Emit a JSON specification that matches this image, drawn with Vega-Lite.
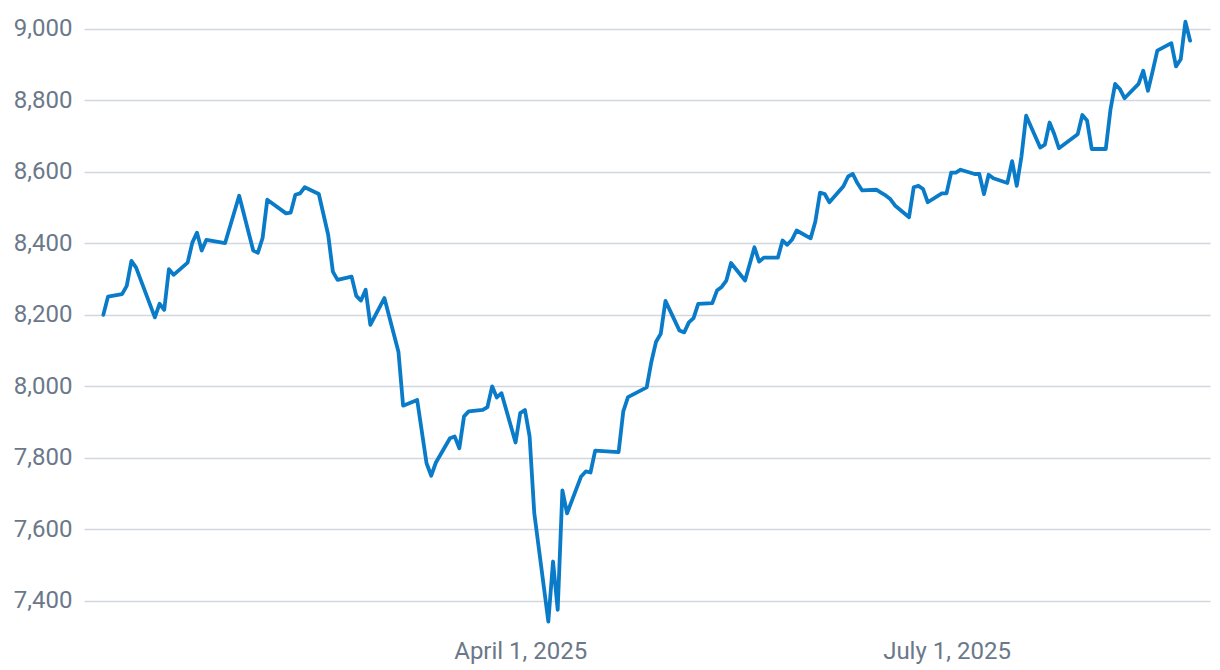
{
  "$schema": "https://vega.github.io/schema/vega-lite/v6.json",
  "width": 1126,
  "height": 625.6,
  "autosize": {"type": "none"},
  "padding": {"left": 84, "top": 11, "right": 10, "bottom": 33.4},
  "background": "white",
  "config": {"view": {"stroke": null}, "font": "Roboto"},
  "data": {"values": [
    {"date": "2025-01-02", "value": 8200},
    {"date": "2025-01-03", "value": 8251},
    {"date": "2025-01-06", "value": 8258},
    {"date": "2025-01-07", "value": 8281},
    {"date": "2025-01-08", "value": 8351},
    {"date": "2025-01-09", "value": 8332},
    {"date": "2025-01-13", "value": 8193},
    {"date": "2025-01-14", "value": 8231},
    {"date": "2025-01-15", "value": 8214},
    {"date": "2025-01-16", "value": 8328},
    {"date": "2025-01-17", "value": 8312},
    {"date": "2025-01-20", "value": 8346},
    {"date": "2025-01-21", "value": 8402},
    {"date": "2025-01-22", "value": 8430},
    {"date": "2025-01-23", "value": 8380},
    {"date": "2025-01-24", "value": 8410},
    {"date": "2025-01-28", "value": 8401},
    {"date": "2025-01-31", "value": 8533},
    {"date": "2025-02-03", "value": 8380},
    {"date": "2025-02-04", "value": 8374},
    {"date": "2025-02-05", "value": 8415},
    {"date": "2025-02-06", "value": 8522},
    {"date": "2025-02-10", "value": 8484},
    {"date": "2025-02-11", "value": 8486},
    {"date": "2025-02-12", "value": 8536},
    {"date": "2025-02-13", "value": 8540},
    {"date": "2025-02-14", "value": 8557},
    {"date": "2025-02-17", "value": 8538},
    {"date": "2025-02-19", "value": 8424},
    {"date": "2025-02-20", "value": 8321},
    {"date": "2025-02-21", "value": 8298},
    {"date": "2025-02-24", "value": 8307},
    {"date": "2025-02-25", "value": 8253},
    {"date": "2025-02-26", "value": 8240},
    {"date": "2025-02-27", "value": 8270},
    {"date": "2025-02-28", "value": 8172},
    {"date": "2025-03-03", "value": 8247},
    {"date": "2025-03-06", "value": 8097},
    {"date": "2025-03-07", "value": 7946},
    {"date": "2025-03-10", "value": 7962},
    {"date": "2025-03-12", "value": 7785},
    {"date": "2025-03-13", "value": 7750},
    {"date": "2025-03-14", "value": 7787},
    {"date": "2025-03-17", "value": 7855},
    {"date": "2025-03-18", "value": 7860},
    {"date": "2025-03-19", "value": 7827},
    {"date": "2025-03-20", "value": 7916},
    {"date": "2025-03-21", "value": 7930},
    {"date": "2025-03-24", "value": 7934},
    {"date": "2025-03-25", "value": 7942},
    {"date": "2025-03-26", "value": 8000},
    {"date": "2025-03-27", "value": 7969},
    {"date": "2025-03-28", "value": 7981},
    {"date": "2025-03-31", "value": 7843},
    {"date": "2025-04-01", "value": 7925},
    {"date": "2025-04-02", "value": 7934},
    {"date": "2025-04-03", "value": 7860},
    {"date": "2025-04-04", "value": 7645},
    {"date": "2025-04-07", "value": 7342},
    {"date": "2025-04-08", "value": 7510},
    {"date": "2025-04-09", "value": 7375},
    {"date": "2025-04-10", "value": 7709},
    {"date": "2025-04-11", "value": 7645},
    {"date": "2025-04-14", "value": 7748},
    {"date": "2025-04-15", "value": 7762},
    {"date": "2025-04-16", "value": 7759},
    {"date": "2025-04-17", "value": 7820},
    {"date": "2025-04-22", "value": 7816},
    {"date": "2025-04-23", "value": 7930},
    {"date": "2025-04-24", "value": 7970},
    {"date": "2025-04-28", "value": 7997},
    {"date": "2025-04-29", "value": 8069},
    {"date": "2025-04-30", "value": 8125},
    {"date": "2025-05-01", "value": 8147},
    {"date": "2025-05-02", "value": 8239},
    {"date": "2025-05-05", "value": 8156},
    {"date": "2025-05-06", "value": 8151},
    {"date": "2025-05-07", "value": 8179},
    {"date": "2025-05-08", "value": 8191},
    {"date": "2025-05-09", "value": 8231},
    {"date": "2025-05-12", "value": 8233},
    {"date": "2025-05-13", "value": 8268},
    {"date": "2025-05-14", "value": 8278},
    {"date": "2025-05-15", "value": 8296},
    {"date": "2025-05-16", "value": 8345},
    {"date": "2025-05-19", "value": 8296},
    {"date": "2025-05-21", "value": 8389},
    {"date": "2025-05-22", "value": 8349},
    {"date": "2025-05-23", "value": 8360},
    {"date": "2025-05-26", "value": 8360},
    {"date": "2025-05-27", "value": 8408},
    {"date": "2025-05-28", "value": 8396},
    {"date": "2025-05-29", "value": 8410},
    {"date": "2025-05-30", "value": 8436},
    {"date": "2025-06-02", "value": 8414},
    {"date": "2025-06-03", "value": 8461},
    {"date": "2025-06-04", "value": 8542},
    {"date": "2025-06-05", "value": 8538},
    {"date": "2025-06-06", "value": 8515},
    {"date": "2025-06-09", "value": 8560},
    {"date": "2025-06-10", "value": 8587},
    {"date": "2025-06-11", "value": 8594},
    {"date": "2025-06-12", "value": 8568},
    {"date": "2025-06-13", "value": 8548},
    {"date": "2025-06-16", "value": 8550},
    {"date": "2025-06-17", "value": 8542},
    {"date": "2025-06-18", "value": 8534},
    {"date": "2025-06-19", "value": 8524},
    {"date": "2025-06-20", "value": 8506},
    {"date": "2025-06-23", "value": 8473},
    {"date": "2025-06-24", "value": 8557},
    {"date": "2025-06-25", "value": 8561},
    {"date": "2025-06-26", "value": 8552},
    {"date": "2025-06-27", "value": 8515},
    {"date": "2025-06-30", "value": 8540},
    {"date": "2025-07-01", "value": 8540},
    {"date": "2025-07-02", "value": 8598},
    {"date": "2025-07-03", "value": 8598},
    {"date": "2025-07-04", "value": 8606},
    {"date": "2025-07-07", "value": 8594},
    {"date": "2025-07-08", "value": 8594},
    {"date": "2025-07-09", "value": 8538},
    {"date": "2025-07-10", "value": 8592},
    {"date": "2025-07-11", "value": 8582},
    {"date": "2025-07-14", "value": 8569},
    {"date": "2025-07-15", "value": 8630},
    {"date": "2025-07-16", "value": 8561},
    {"date": "2025-07-17", "value": 8643},
    {"date": "2025-07-18", "value": 8757},
    {"date": "2025-07-21", "value": 8668},
    {"date": "2025-07-22", "value": 8676},
    {"date": "2025-07-23", "value": 8738},
    {"date": "2025-07-24", "value": 8706},
    {"date": "2025-07-25", "value": 8666},
    {"date": "2025-07-29", "value": 8705},
    {"date": "2025-07-30", "value": 8759},
    {"date": "2025-07-31", "value": 8744},
    {"date": "2025-08-01", "value": 8664},
    {"date": "2025-08-04", "value": 8664},
    {"date": "2025-08-05", "value": 8774},
    {"date": "2025-08-06", "value": 8846},
    {"date": "2025-08-07", "value": 8832},
    {"date": "2025-08-08", "value": 8806},
    {"date": "2025-08-11", "value": 8846},
    {"date": "2025-08-12", "value": 8883},
    {"date": "2025-08-13", "value": 8827},
    {"date": "2025-08-14", "value": 8881},
    {"date": "2025-08-15", "value": 8939},
    {"date": "2025-08-18", "value": 8960},
    {"date": "2025-08-19", "value": 8895},
    {"date": "2025-08-20", "value": 8915},
    {"date": "2025-08-21", "value": 9020},
    {"date": "2025-08-22", "value": 8967}
  ]},
  "mark": {"type": "line", "color": "#0a7bc8", "strokeWidth": 3.8, "strokeJoin": "round", "strokeCap": "round", "clip": false},
  "encoding": {
    "x": {
      "field": "date",
      "type": "temporal",
      "scale": {
        "type": "utc",
        "domain": [
          {"year": 2024, "month": 12, "date": 28, "hours": 21, "utc": true},
          {"year": 2025, "month": 8, "date": 26, "hours": 6, "utc": true}
        ]
      },
      "axis": {
        "title": null,
        "values": [
          {"year": 2025, "month": 4, "date": 1, "utc": true},
          {"year": 2025, "month": 7, "date": 1, "utc": true}
        ],
        "labelExpr": "utcFormat(datum.value, '%B %-d, %Y')",
        "grid": false,
        "domain": false,
        "ticks": false,
        "tickSize": 0,
        "labelPadding": 3,
        "labelFont": "Roboto",
        "labelFontSize": 24,
        "labelColor": "#6b7889"
      }
    },
    "y": {
      "field": "value",
      "type": "quantitative",
      "scale": {"domain": [7300, 9050], "nice": false, "zero": false},
      "axis": {
        "title": null,
        "values": [7400, 7600, 7800, 8000, 8200, 8400, 8600, 8800, 9000],
        "format": ",d",
        "grid": true,
        "gridColor": "#d2d7df",
        "gridWidth": 1.5,
        "domain": false,
        "ticks": false,
        "tickSize": 0,
        "labelPadding": 12,
        "labelFont": "Roboto",
        "labelFontSize": 24,
        "labelColor": "#6b7889"
      }
    }
  }
}
